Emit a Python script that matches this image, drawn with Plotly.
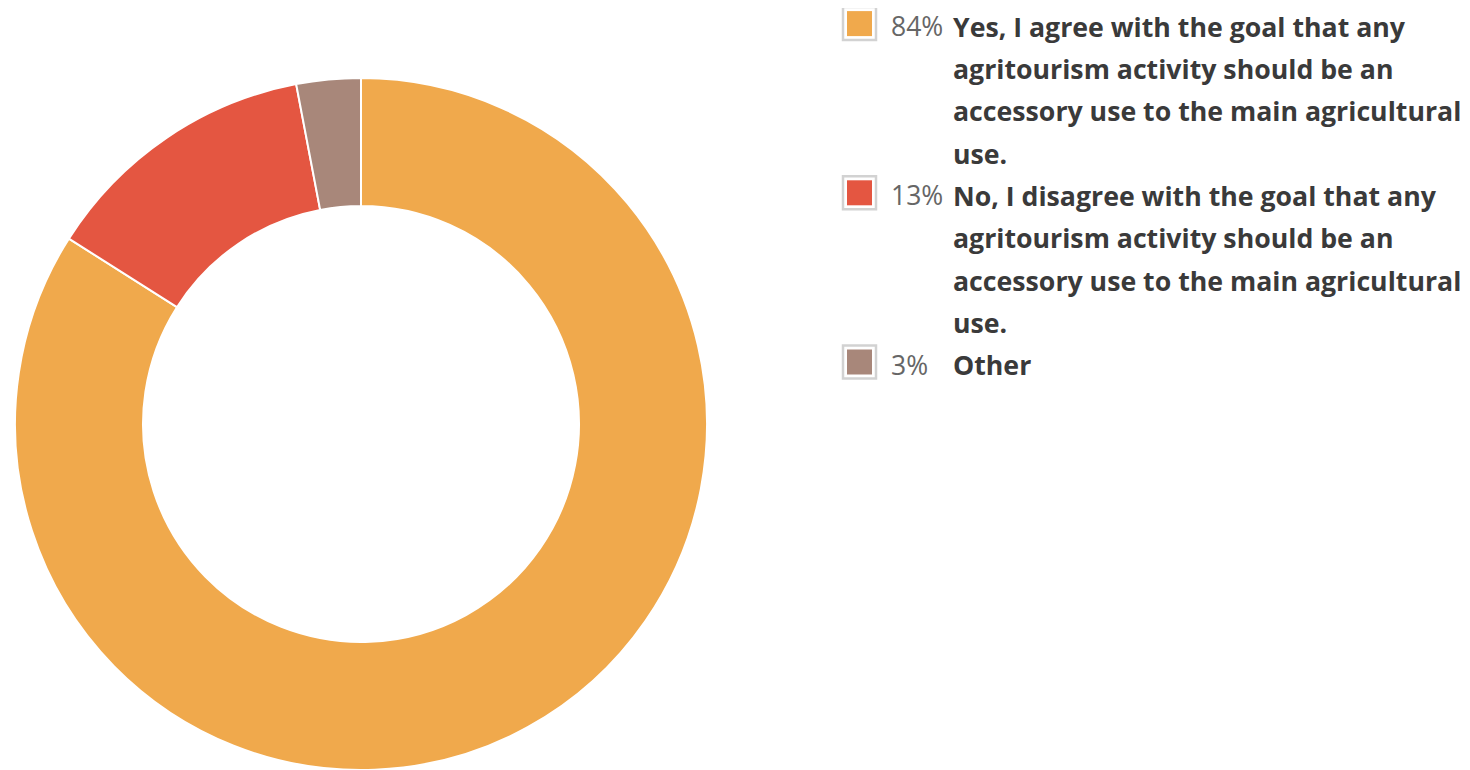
import plotly.graph_objects as go

# ---- data ----
categories = [
    "Yes, I agree with the goal that any agritourism activity should be an accessory use to the main agricultural use.",
    "No, I disagree with the goal that any agritourism activity should be an accessory use to the main agricultural use.",
    "Other",
]
values = [84, 13, 3]
pct_labels = ["84%", "13%", "3%"]
label_lines = [
    ["Yes, I agree with the goal that any", "agritourism activity should be an",
     "accessory use to the main agricultural", "use."],
    ["No, I disagree with the goal that any", "agritourism activity should be an",
     "accessory use to the main agricultural", "use."],
    ["Other"],
]
colors = ["#F0A94C", "#E45641", "#A8877A"]

W, H = 1470, 770
OX, OY = 8, 8  # page body margin


def px(x):
    return (x - OX) / W


def py(y):
    return 1 - (y - OY) / H


fig = go.Figure()
fig.add_trace(go.Pie(
    labels=categories,
    values=values,
    hole=0.63,
    sort=False,
    direction="clockwise",
    rotation=0,
    textinfo="none",
    marker=dict(colors=colors, line=dict(color="white", width=2)),
    domain=dict(x=[px(15), px(707)], y=[py(770), py(78)]),
    showlegend=False,
))

# ---- custom legend ----
font_family = "Open Sans, Noto Sans, sans-serif"
line_h = 42.3
y0_text = 26.2
y0_box = 23.6
box_x0, box_x1 = 843, 876
pct_x, lab_x = 890, 952
annotations = []
shapes = []
row = 0
for i in range(len(categories)):
    yc = y0_text + row * line_h
    yb = y0_box + row * line_h
    shapes.append(dict(type="rect", xref="paper", yref="paper",
                       x0=px(box_x0), x1=px(box_x1),
                       y0=py(yb + 16.5), y1=py(yb - 16.5),
                       line=dict(color="#D2D2D2", width=2.5), fillcolor="white"))
    shapes.append(dict(type="rect", xref="paper", yref="paper",
                       x0=px(box_x0 + 4), x1=px(box_x1 - 4),
                       y0=py(yb + 12.5), y1=py(yb - 12.5),
                       line=dict(width=0), fillcolor=colors[i]))
    annotations.append(dict(text=pct_labels[i], xref="paper", yref="paper",
                            x=px(pct_x), y=py(yc), xanchor="left", yanchor="middle",
                            showarrow=False, borderpad=0,
                            font=dict(family=font_family, size=26.5, color="#666666")))
    for ln in label_lines[i]:
        yl = y0_text + row * line_h
        annotations.append(dict(text="<b>" + ln + "</b>", xref="paper", yref="paper",
                                x=px(lab_x), y=py(yl), xanchor="left", yanchor="middle",
                                showarrow=False, borderpad=0,
                                font=dict(family=font_family, size=26.7, color="#3A3A3A")))
        row += 1

fig.update_layout(
    width=W, height=H,
    margin=dict(l=0, r=0, t=0, b=0),
    paper_bgcolor="white", plot_bgcolor="white",
    shapes=shapes, annotations=annotations,
    showlegend=False,
)

fig.write_html("out.html")
